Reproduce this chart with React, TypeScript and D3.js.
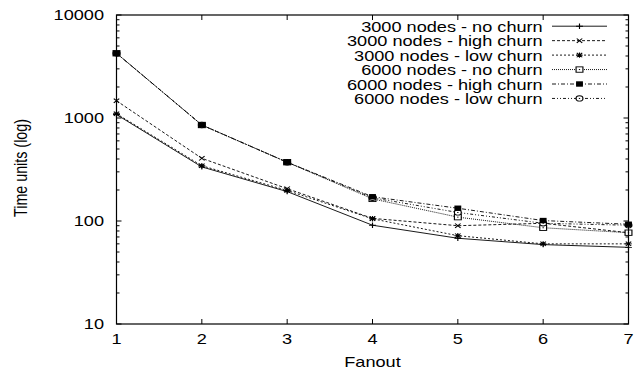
import React from "react";
import * as d3 from "d3";

const fanout = [1, 2, 3, 4, 5, 6, 7];
const n3000NoChurn = [1080, 335, 193, 91, 68, 59, 55.5];
const n3000HighChurn = [1470, 406, 206, 106, 90, 95, 77];
const n3000LowChurn = [1100, 344, 198, 105, 72, 60, 60];
const n6000NoChurn = [4250, 855, 372, 164, 109, 86, 77];
const n6000HighChurn = [4250, 855, 372, 172, 133, 101, 93];
const n6000LowChurn = [4250, 855, 372, 168, 121, 95, 91];

const seriesNames = [
  "3000 nodes - no churn",
  "3000 nodes - high churn",
  "3000 nodes - low churn",
  "6000 nodes - no churn",
  "6000 nodes - high churn",
  "6000 nodes - low churn",
];
const seriesValues = [n3000NoChurn, n3000HighChurn, n3000LowChurn, n6000NoChurn, n6000HighChurn, n6000LowChurn];
const dashes = ["none", "3,2", "2,2", "1,1", "4,2,1,2", "3,2,1,2,1,2"];
const markers = ["plus", "cross", "star", "osquare", "fsquare", "ocircle"];
const markerOrder = [0, 1, 2, 3, 5, 4];

const yTicks = [10, 100, 1000, 10000];
const xLabel = "Fanout";
const yLabel = "Time units (log)";

const W = 640, H = 370;
const L = 116.5, R = 628.5, T = 15, B = 324;
const SX = 1.27;
const FONT = "'Liberation Sans', Arial, Helvetica, sans-serif";

const x = d3.scaleLinear().domain([1, 7]).range([L, R]);
const y = d3.scaleLog().domain([10, 10000]).range([B, T]);

function Marker({ type, cx, cy }: { type: string; cx: number; cy: number }) {
  const s = 2.7;
  const st = { stroke: "#000", strokeWidth: 0.9, fill: "none" } as any;
  let el: any = null;
  if (type === "plus") {
    el = <path d={`M${-s},0H${s}M0,${-s}V${s}`} {...st} />;
  } else if (type === "cross") {
    el = <path d={`M${-s * 0.8},${-s * 0.8}L${s * 0.8},${s * 0.8}M${-s * 0.8},${s * 0.8}L${s * 0.8},${-s * 0.8}`} {...st} />;
  } else if (type === "star") {
    el = <path d={`M${-s},0H${s}M0,${-s}V${s}M${-s * 0.8},${-s * 0.8}L${s * 0.8},${s * 0.8}M${-s * 0.8},${s * 0.8}L${s * 0.8},${-s * 0.8}`} {...st} />;
  } else if (type === "osquare") {
    el = (
      <g>
        <rect x={-s} y={-s} width={2 * s} height={2 * s} {...st} fill="#fff" />
        <rect x={-0.5} y={-0.5} width={1} height={1} fill="#000" />
      </g>
    );
  } else if (type === "fsquare") {
    el = <rect x={-s} y={-s} width={2 * s} height={2 * s} fill="#000" />;
  } else if (type === "ocircle") {
    el = (
      <g>
        <circle r={s} {...st} fill="#fff" />
        <rect x={-0.5} y={-0.5} width={1} height={1} fill="#000" />
      </g>
    );
  }
  return <g transform={`translate(${cx},${cy}) scale(${SX},1)`}>{el}</g>;
}

function Txt({ x: tx, y: ty, anchor, children }: any) {
  return (
    <text transform={`translate(${tx},${ty}) scale(${SX},1)`} textAnchor={anchor} fontFamily={FONT} fontSize={14.3} fill="#000">
      {children}
    </text>
  );
}

export default function App() {
  const line = d3
    .line<number>()
    .x((_, i) => x(fanout[i]))
    .y((v) => y(v));

  const minor: number[] = [];
  [10, 100, 1000].forEach((d) => {
    for (let k = 2; k <= 9; k++) minor.push(d * k);
  });

  const legX0 = 552, legX1 = 607, legTextX = 542.7, legBase0 = 31.7, legStep = 14.45;

  return (
    <svg width={W} height={H} style={{ position: "absolute", left: 0, top: 0, background: "#fff" }}>
      <rect width={W} height={H} fill="#fff" />
      {/* ticks */}
      <g stroke="#000" strokeWidth={1}>
        {yTicks.map((t) => (
          <g key={"yt" + t}>
            <line x1={L} x2={L + 5} y1={y(t)} y2={y(t)} />
            <line x1={R} x2={R - 5} y1={y(t)} y2={y(t)} />
          </g>
        ))}
        {minor.map((t) => (
          <g key={"ym" + t}>
            <line x1={L} x2={L + 3} y1={y(t)} y2={y(t)} />
            <line x1={R} x2={R - 3} y1={y(t)} y2={y(t)} />
          </g>
        ))}
        {fanout.map((f) => (
          <g key={"xt" + f}>
            <line x1={x(f)} x2={x(f)} y1={B} y2={B - 5} />
            <line x1={x(f)} x2={x(f)} y1={T} y2={T + 5} />
          </g>
        ))}
      </g>
      {/* series */}
      {seriesValues.map((vals, si) => (
        <path
          key={"s" + si}
          d={line(vals) || ""}
          fill="none"
          stroke="#000"
          strokeWidth={0.9}
          strokeDasharray={dashes[si]}
        />
      ))}
      {markerOrder.map((si) =>
        seriesValues[si].map((v, i) => (
          <Marker key={`m${si}-${i}`} type={markers[si]} cx={x(fanout[i])} cy={y(v)} />
        ))
      )}
      {/* frame */}
      <rect x={L} y={T} width={R - L} height={B - T} fill="none" stroke="#000" strokeWidth={1.2} />
      {/* tick labels */}
      {yTicks.map((t) => (
        <Txt key={"yl" + t} x={104} y={y(t) + 5} anchor="end">
          {String(t)}
        </Txt>
      ))}
      {fanout.map((f) => (
        <Txt key={"xl" + f} x={x(f)} y={344} anchor="middle">
          {String(f)}
        </Txt>
      ))}
      <Txt x={(L + R) / 2} y={366.5} anchor="middle">
        {xLabel}
      </Txt>
      <text
        transform={`translate(27,168) scale(${SX},1) rotate(-90)`}
        textAnchor="middle"
        fontFamily={FONT}
        fontSize={14.3}
        fill="#000"
      >
        {yLabel}
      </text>
      {/* legend */}
      {seriesNames.map((name, si) => {
        const by = legBase0 + si * legStep;
        const ly = by - 5.5;
        return (
          <g key={"lg" + si}>
            <Txt x={legTextX} y={by} anchor="end">
              {name}
            </Txt>
            <line x1={legX0} x2={legX1} y1={ly} y2={ly} stroke="#000" strokeWidth={0.9} strokeDasharray={dashes[si]} />
            <Marker type={markers[si]} cx={(legX0 + legX1) / 2} cy={ly} />
          </g>
        );
      })}
    </svg>
  );
}
